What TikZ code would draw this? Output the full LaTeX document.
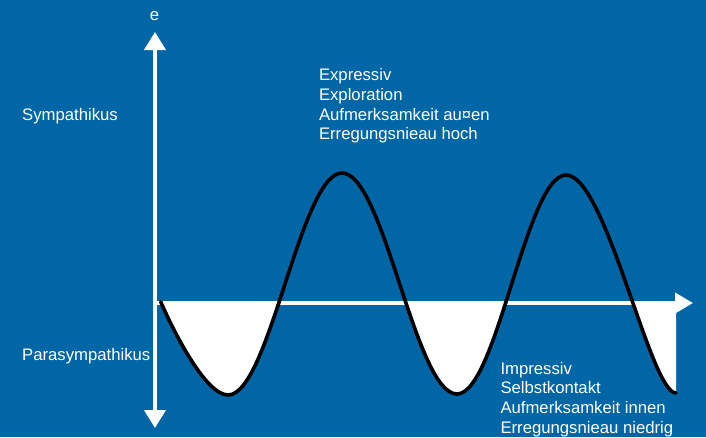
\documentclass[tikz,border=0pt]{standalone}
\usepackage{fontspec}
\setmainfont{Liberation Sans}
\usetikzlibrary{arrows.meta}
\definecolor{bgblue}{RGB}{0,102,166}
\tikzset{
  lbl/.style={anchor=base west, inner sep=0pt, text=white, font=\fontsize{16.7}{19.8}\selectfont},
  axis/.style={draw=white, line width=4pt},
  wave/.style={draw=black, line width=3.6pt, line cap=round, line join=round},
}
\begin{document}
\begin{tikzpicture}[x=1pt,y=-1pt]
\fill[bgblue] (0,0) rectangle (706,437);
\useasboundingbox (0,0) rectangle (706,437);
% key points
\coordinate (w0) at (160.7,301.7);
\coordinate (m1) at (228,395);
\coordinate (x1) at (342,173);
\coordinate (m2) at (457,394);
\coordinate (x2) at (566,175);
\coordinate (wend) at (676,393);
\coordinate (htail) at (157,303);
\coordinate (htip) at (693,303);
\coordinate (vtop) at (155,32);
\coordinate (vbot) at (155,428);
% white fill below the horizontal axis
\begin{scope}
\clip (0,302) rectangle (706,437);
\fill[white] (w0) .. controls (172,328) and (205,395) .. (m1)
  .. controls (269.5,395) and (300.5,173) .. (x1)
  .. controls (384,173) and (415,394) .. (m2)
  .. controls (496.7,394) and (526.3,175) .. (x2)
  .. controls (606,175) and (650,393) .. (wend)
  -- (676,303) -- (160.7,303) -- cycle;
\end{scope}
% axes
\draw[axis, -{Triangle[width=20pt,length=18pt]}] (htail) -- (htip);
\draw[axis, {Triangle[width=21pt,length=18pt]}-{Triangle[width=21pt,length=18pt]}] (vbot) -- (vtop);
% wave
\draw[wave] (w0) .. controls (172,328) and (205,395) .. (m1)
  .. controls (269.5,395) and (300.5,173) .. (x1)
  .. controls (384,173) and (415,394) .. (m2)
  .. controls (496.7,394) and (526.3,175) .. (x2)
  .. controls (606,175) and (650,393) .. (wend);
% labels
\node[lbl, anchor=base] (e) at (154.5,20) {e};
\node[lbl] (sym) at (22,120.7) {Sympathikus};
\node[lbl] (para) at (22,360.7) {Parasympathikus};
\node[lbl] (t1) at (318.8,80.5) {Expressiv};
\node[lbl] (t2) at (318.8,100.3) {Exploration};
\node[lbl] (t3) at (318.8,120.1) {Aufmerksamkeit au¤en};
\node[lbl] (t4) at (318.8,139.9) {Erregungsnieau hoch};
\node[lbl] (b1) at (500.3,374) {Impressiv};
\node[lbl] (b2) at (500.3,393.8) {Selbstkontakt};
\node[lbl] (b3) at (500.3,413.6) {Aufmerksamkeit innen};
\node[lbl] (b4) at (500.3,433.4) {Erregungsnieau niedrig};
\end{tikzpicture}
\end{document}
